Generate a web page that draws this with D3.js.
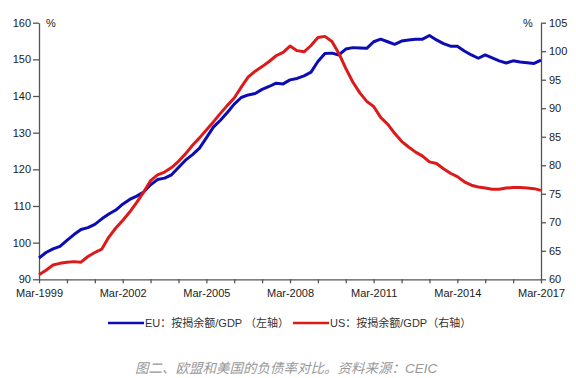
<!DOCTYPE html>
<html><head><meta charset="utf-8">
<script src="https://cdn.jsdelivr.net/npm/d3@7"></script>
<style>
html,body{margin:0;padding:0;background:#fff;}
svg{display:block;}
text{font-family:"Liberation Sans","Noto Sans CJK SC",Arial,sans-serif;}
</style></head>
<body><svg id="c" width="576" height="378"></svg>
<script>
// Quarterly data, Mar-1999 .. Mar-2017
const startQuarter = "1999-03";
const endQuarter = "2017-03";
const euValues = [95.8,97.3,98.3,99.0,100.6,102.2,103.6,104.1,105.0,106.5,107.8,108.9,110.5,111.8,112.7,113.8,115.8,117.2,117.6,118.5,120.5,122.5,124.0,125.8,128.6,131.5,133.4,135.5,137.8,139.6,140.3,140.7,141.8,142.6,143.5,143.3,144.4,144.8,145.5,146.5,149.4,151.6,151.7,151.2,152.8,153.2,153.1,153.0,154.8,155.5,154.8,154.1,155.0,155.3,155.5,155.5,156.5,155.3,154.3,153.6,153.6,152.3,151.2,150.3,151.2,150.4,149.6,149.0,149.6,149.3,149.1,148.9,149.8];
const usValues = [60.8,61.6,62.5,62.8,63.0,63.1,63.0,64.0,64.7,65.3,67.4,69.0,70.3,71.8,73.5,75.3,77.3,78.3,78.8,79.6,80.7,82.0,83.5,84.8,86.2,87.6,89.1,90.5,91.8,93.7,95.5,96.5,97.3,98.2,99.2,99.8,100.9,100.1,99.9,101.0,102.4,102.6,101.7,99.6,97.0,94.6,92.7,91.2,90.3,88.4,87.2,85.6,84.2,83.2,82.3,81.6,80.6,80.3,79.4,78.6,78.0,77.1,76.5,76.2,76.0,75.8,75.8,76.0,76.1,76.1,76.0,75.9,75.6];
const xTickLabels = ["Mar-1999","Mar-2002","Mar-2005","Mar-2008","Mar-2011","Mar-2014","Mar-2017"];
const leftTicks = [90,100,110,120,130,140,150,160];
const rightTicks = [60,65,70,75,80,85,90,95,100,105];
const legendLabels = ["EU：按揭余额/GDP （左轴）","US：按揭余额/GDP（右轴）"];
const caption = "图二、欧盟和美国的负债率对比。资料来源：CEIC";

const parse = d3.timeParse("%Y-%m");
const t0 = parse(startQuarter), t1 = parse(endQuarter);
const dates = euValues.map((_,i)=>d3.timeMonth.offset(t0, 3*i));
const nYears = d3.timeMonth.count(t0,t1)/12;
const yearTicks = d3.range(nYears+1).map(k=>d3.timeMonth.offset(t0, 12*k));

const svg = d3.select("#c");
const X0=39, X1=541, YT=22.7, YB=279.3;
const x = d3.scaleTime().domain([t0,t1]).range([X0,X1]);
const yL = d3.scaleLinear().domain([90,160]).range([YB,YT]);
const yR = d3.scaleLinear().domain([60,105]).range([YB,YT]);
const axisColor="#555", txt="#222";

// axes
const gL = svg.append("g").attr("transform",`translate(${X0},0)`)
  .call(d3.axisLeft(yL).tickValues(leftTicks).tickSize(6).tickPadding(2).tickSizeOuter(0));
const gR = svg.append("g").attr("transform",`translate(${X1},0)`)
  .call(d3.axisRight(yR).tickValues(rightTicks).tickSize(5).tickPadding(3).tickSizeOuter(0));
const fmt = d3.timeFormat("%b-%Y");
const gX = svg.append("g").attr("transform",`translate(0,${YB})`)
  .call(d3.axisBottom(x).tickValues(yearTicks).tickSize(4).tickPadding(4).tickSizeOuter(0)
    .tickFormat(d => xTickLabels.includes(fmt(d)) ? fmt(d) : ""));
[gL,gR,gX].forEach(g=>{
  g.select(".domain").attr("stroke",axisColor).attr("stroke-width",1.3);
  g.selectAll(".tick line").attr("stroke",axisColor).attr("stroke-width",1.3);
  g.selectAll(".tick text").attr("fill",txt).style("font-size","11px")
   .style("font-family","'Liberation Sans',Arial,sans-serif");
});
gX.selectAll(".tick text").attr("dy","0.9em");

svg.append("text").attr("x",46).attr("y",YT+4).attr("fill",txt).style("font-size","11px").text("%");
svg.append("text").attr("x",523).attr("y",YT+4).attr("fill",txt).style("font-size","11px").text("%");

// lines
const lineL = d3.line().x((d,i)=>x(dates[i])).y(d=>yL(d));
const lineR = d3.line().x((d,i)=>x(dates[i])).y(d=>yR(d));
const blue="#0c0cb4", red="#dc1a1a";
svg.append("path").datum(euValues).attr("d",lineL).attr("fill","none")
  .attr("stroke",blue).attr("stroke-width",3).attr("stroke-linejoin","round");
svg.append("path").datum(usValues).attr("d",lineR).attr("fill","none")
  .attr("stroke",red).attr("stroke-width",3).attr("stroke-linejoin","round");

// legend
const lg = [{c:blue,x:108},{c:red,x:293}];
lg.forEach((l,i)=>{
  svg.append("line").attr("x1",l.x).attr("x2",l.x+36).attr("y1",323).attr("y2",323)
    .attr("stroke",l.c).attr("stroke-width",2.5);
  svg.append("text").attr("x",l.x+37).attr("y",327).attr("fill","#333")
    .style("font-size","11px").text(legendLabels[i]);
});

// caption
svg.append("text").attr("x",135).attr("y",373).attr("fill","#999")
  .style("font-size","13.5px").style("font-style","italic").text(caption);
</script></body></html>
